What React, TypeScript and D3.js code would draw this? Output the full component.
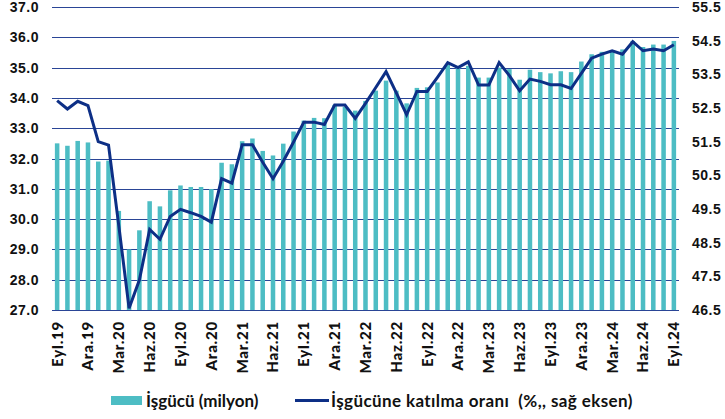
import React from 'react';
import * as d3 from 'd3';

// aylar (Eyl.19 - Eyl.24)
const months = [
  'Eyl.19', 'Eki.19', 'Kas.19', 'Ara.19', 'Oca.20', 'Şub.20', 'Mar.20', 'Nis.20', 'May.20', 'Haz.20', 'Tem.20', 'Ağu.20',
  'Eyl.20', 'Eki.20', 'Kas.20', 'Ara.20', 'Oca.21', 'Şub.21', 'Mar.21', 'Nis.21', 'May.21', 'Haz.21', 'Tem.21', 'Ağu.21',
  'Eyl.21', 'Eki.21', 'Kas.21', 'Ara.21', 'Oca.22', 'Şub.22', 'Mar.22', 'Nis.22', 'May.22', 'Haz.22', 'Tem.22', 'Ağu.22',
  'Eyl.22', 'Eki.22', 'Kas.22', 'Ara.22', 'Oca.23', 'Şub.23', 'Mar.23', 'Nis.23', 'May.23', 'Haz.23', 'Tem.23', 'Ağu.23',
  'Eyl.23', 'Eki.23', 'Kas.23', 'Ara.23', 'Oca.24', 'Şub.24', 'Mar.24', 'Nis.24', 'May.24', 'Haz.24', 'Tem.24', 'Ağu.24',
  'Eyl.24',
];

// işgücü (milyon)
const labourForce = [
  32.50, 32.42, 32.58, 32.53, 31.90, 31.93, 30.27, 29.00, 29.63, 30.59, 30.42, 30.95,
  31.11, 31.06, 31.06, 30.99, 31.86, 31.81, 32.57, 32.66, 32.25, 32.10, 32.49, 32.89,
  33.25, 33.34, 33.33, 33.77, 33.71, 33.58, 33.90, 34.24, 34.57, 34.24, 33.82, 34.33,
  34.35, 34.51, 35.11, 35.00, 35.06, 34.67, 34.67, 35.00, 34.95, 34.60, 34.93, 34.85,
  34.81, 34.88, 34.85, 35.20, 35.44, 35.52, 35.55, 35.60, 35.88, 35.68, 35.76, 35.76,
  35.88,
];

// işgücüne katılma oranı (%, sağ eksen)
const participation = [
  52.72, 52.47, 52.70, 52.57, 51.50, 51.40, 49.00, 46.55, 47.39, 48.89, 48.60, 49.28,
  49.49, 49.39, 49.28, 49.11, 50.40, 50.27, 51.41, 51.41, 50.89, 50.40, 50.92, 51.49,
  52.08, 52.08, 52.01, 52.59, 52.59, 52.19, 52.64, 53.11, 53.58, 52.95, 52.30, 52.99,
  52.99, 53.41, 53.85, 53.70, 53.87, 53.18, 53.18, 53.85, 53.46, 53.01, 53.36, 53.29,
  53.19, 53.19, 53.08, 53.53, 53.98, 54.10, 54.20, 54.10, 54.47, 54.20, 54.25, 54.20,
  54.38,
];

const leftTicks = [27, 28, 29, 30, 31, 32, 33, 34, 35, 36, 37];
const rightTicks = [46.5, 47.5, 48.5, 49.5, 50.5, 51.5, 52.5, 53.5, 54.5, 55.5];

const W = 725;
const H = 419;
const left = 52;
const right = 679;
const top = 7;
const bottom = 310;

const barColor = '#4dbdc4';
const lineColor = '#0d2f86';
const gridColor = '#2a4596';

export default function App() {
  const x = d3.scaleBand<string>().domain(months).range([left, right]).paddingInner(0.56).paddingOuter(0.28);
  const yL = d3.scaleLinear().domain([27, 37]).range([bottom, top]);
  const yR = d3.scaleLinear().domain([46.5, 55.5]).range([bottom, top]);
  const cx = (m: string) => (x(m) ?? 0) + x.bandwidth() / 2;

  const line = d3.line<number>()
    .x((_, i) => cx(months[i]))
    .y((d) => yR(d));

  const numFont = 'Liberation Sans, Arial, sans-serif';
  const legFont = 'Lato, "Noto Sans", sans-serif';

  return (
    <svg width={W} height={H} style={{ position: 'absolute', left: 0, top: 0, background: '#fff' }}>
      {leftTicks.map((t) => (
        <line key={'g' + t} x1={left} x2={right} y1={Math.round(yL(t)) + 0.5} y2={Math.round(yL(t)) + 0.5}
          stroke={gridColor} strokeWidth={1} />
      ))}
      {months.map((m, i) => (
        <rect key={m} x={x(m)} width={x.bandwidth()} y={yL(labourForce[i])}
          height={yL(27) - yL(labourForce[i])} fill={barColor} />
      ))}
      <line x1={left} x2={right} y1={bottom + 0.5} y2={bottom + 0.5} stroke={gridColor} strokeWidth={1.2} />
      <path d={line(participation) ?? ''} fill="none" stroke={lineColor} strokeWidth={3} strokeLinejoin="miter" />
      {leftTicks.map((t) => (
        <text key={'l' + t} x={39} y={yL(t)} dy="0.36em" textAnchor="end" fontFamily={numFont}
          fontWeight="bold" fontSize={14} letterSpacing={0.5} fill="#111">{t.toFixed(1)}</text>
      ))}
      {rightTicks.map((t) => (
        <text key={'r' + t} x={692} y={yR(t)} dy="0.36em" textAnchor="start" fontFamily={numFont}
          fontWeight="bold" fontSize={14} letterSpacing={0.5} fill="#111">{t.toFixed(1)}</text>
      ))}
      {months.map((m, i) => (i % 3 === 0 ? (
        <text key={'x' + m} transform={`translate(${cx(m)},321) rotate(-90)`} dy="0.36em" textAnchor="end"
          fontFamily={legFont} fontWeight="900" fontSize={15} letterSpacing={0.8} fill="#111">{m}</text>
      ) : null))}
      <rect x={111} y={396} width={31} height={9} fill={barColor} />
      <text x={146} y={407} fontFamily={legFont} fontWeight="bold" fontSize={17} fill="#111">İşgücü (milyon)</text>
      <line x1={295} x2={329} y1={400.5} y2={400.5} stroke={lineColor} strokeWidth={3} />
      <text x={331} y={407} fontFamily={legFont} fontWeight="bold" fontSize={17} letterSpacing={0.4} fill="#111" xmlSpace="preserve">İşgücüne katılma oranı  (%,, sağ eksen)</text>
    </svg>
  );
}
